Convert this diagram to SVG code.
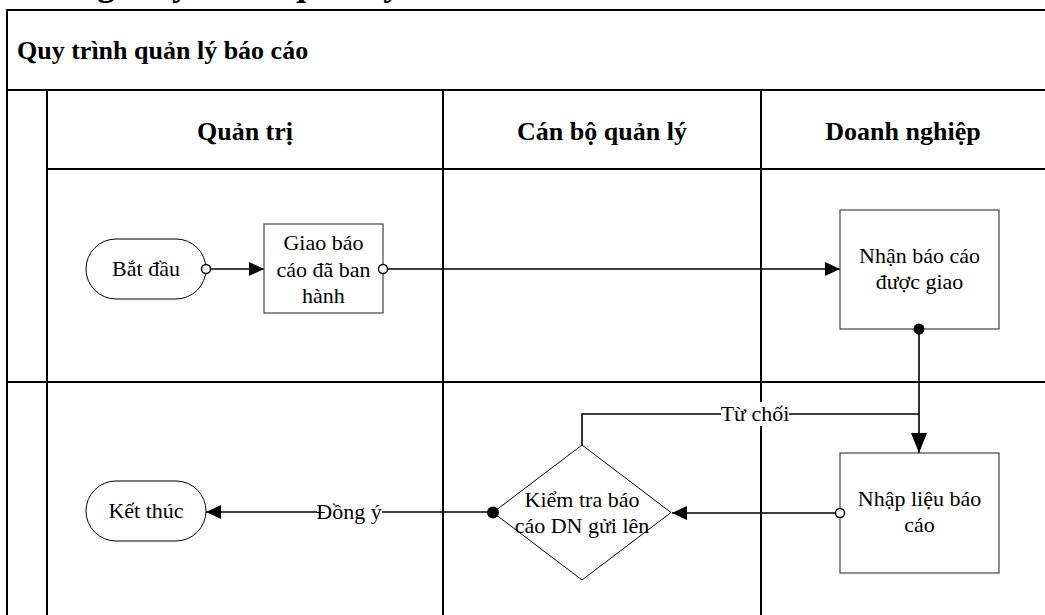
<svg xmlns="http://www.w3.org/2000/svg" width="1045" height="615" viewBox="0 0 1045 615">
<style>
.lane{fill:none;stroke:#000;stroke-width:2}
.hd{font-family:"Liberation Serif","Times New Roman",serif;font-weight:bold;font-size:26px;fill:#000}
.tx{font-family:"Liberation Serif","Times New Roman",serif;font-size:22px;fill:#000;text-anchor:middle}
.box{fill:#fff;stroke:#444;stroke-width:1.2}
.term{fill:#fff;stroke:#000;stroke-width:1}
.dia{fill:#fff;stroke:#000;stroke-width:1}
.con{fill:none;stroke:#000;stroke-width:1.6}
.oc{fill:#fff;stroke:#000;stroke-width:1.4}
.fc{fill:#000;stroke:none}
.lbl{fill:#fff;stroke:none}
</style>
<defs>
<marker id="ar" markerUnits="userSpaceOnUse" markerWidth="15" markerHeight="14" refX="15" refY="7" orient="auto">
<path d="M0,0 L15,7 L0,14 z" fill="#000"/>
</marker>
<marker id="arb" markerUnits="userSpaceOnUse" markerWidth="20" markerHeight="16" refX="20" refY="8" orient="auto">
<path d="M0,0 L20,8 L0,16 z" fill="#000"/>
</marker>
</defs>
<rect width="1045" height="615" fill="#fff"/>
<text class="hd" x="15" y="-5" style="font-size:36px">Luồng Quy trình quản lý báo cáo</text>
<g id="pool">
<rect class="lane" x="7" y="10" width="1060" height="640"/>
<line class="lane" x1="7" y1="90" x2="1045" y2="90"/>
<line class="lane" x1="47" y1="90" x2="47" y2="615"/>
<line class="lane" x1="47" y1="169" x2="1045" y2="169"/>
<line class="lane" x1="7" y1="382" x2="1045" y2="382"/>
<line class="lane" x1="443" y1="90" x2="443" y2="615"/>
<line class="lane" x1="761" y1="90" x2="761" y2="615"/>
<text class="hd" x="17" y="59">Quy trình quản lý báo cáo</text>
<text class="hd" x="245" y="140" text-anchor="middle">Quản trị</text>
<text class="hd" x="602" y="140" text-anchor="middle">Cán bộ quản lý</text>
<text class="hd" x="903" y="140" text-anchor="middle">Doanh nghiệp</text>
</g>
<g id="connectors">
<line class="con" x1="210" y1="269" x2="264" y2="269" marker-end="url(#ar)"/>
<line class="con" x1="388" y1="269" x2="840" y2="269" marker-end="url(#ar)"/>
<line class="con" x1="919" y1="329" x2="919" y2="453" marker-end="url(#arb)"/>
<line class="con" x1="836" y1="513" x2="672" y2="513" marker-end="url(#ar)"/>
<polyline class="con" points="582,445 582,414 919,414"/>
<line class="con" x1="493" y1="512" x2="206" y2="512" marker-end="url(#ar)"/>
<rect class="lbl" x="721" y="402" width="68" height="24"/>
<text class="tx" x="755" y="421">Từ chối</text>
<rect class="lbl" x="317" y="500" width="65" height="24"/>
<text class="tx" x="349" y="519">Đồng ý</text>
</g>
<g id="start">
<rect class="term" x="86" y="239" width="120" height="60" rx="30"/>
<text class="tx" x="146" y="276">Bắt đầu</text>
</g>
<g id="giao">
<rect class="box" x="264" y="224" width="119" height="89"/>
<text class="tx" x="323.5" y="250">Giao báo</text>
<text class="tx" x="323.5" y="277">cáo đã ban</text>
<text class="tx" x="323.5" y="303">hành</text>
</g>
<g id="nhan">
<rect class="box" x="840" y="210" width="159" height="119"/>
<text class="tx" x="919.5" y="263">Nhận báo cáo</text>
<text class="tx" x="919.5" y="289">được giao</text>
</g>
<g id="nhap">
<rect class="box" x="840" y="453" width="159" height="120"/>
<text class="tx" x="919.5" y="506">Nhập liệu báo</text>
<text class="tx" x="919.5" y="532">cáo</text>
</g>
<g id="kiemtra">
<polygon class="dia" points="582,445 671,512.5 582,580 493,512.5"/>
<text class="tx" x="582" y="507">Kiểm tra báo</text>
<text class="tx" x="582" y="533">cáo DN gửi lên</text>
</g>
<g id="end">
<rect class="term" x="86" y="481" width="120" height="60" rx="30"/>
<text class="tx" x="146" y="518">Kết thúc</text>
</g>
<g id="ports">
<circle class="oc" cx="206" cy="269" r="4.5"/>
<circle class="oc" cx="383" cy="269" r="4.5"/>
<circle class="fc" cx="919" cy="329" r="5.5"/>
<circle class="oc" cx="840" cy="513" r="4.5"/>
<circle class="fc" cx="493" cy="512.5" r="6"/>
</g>
</svg>
